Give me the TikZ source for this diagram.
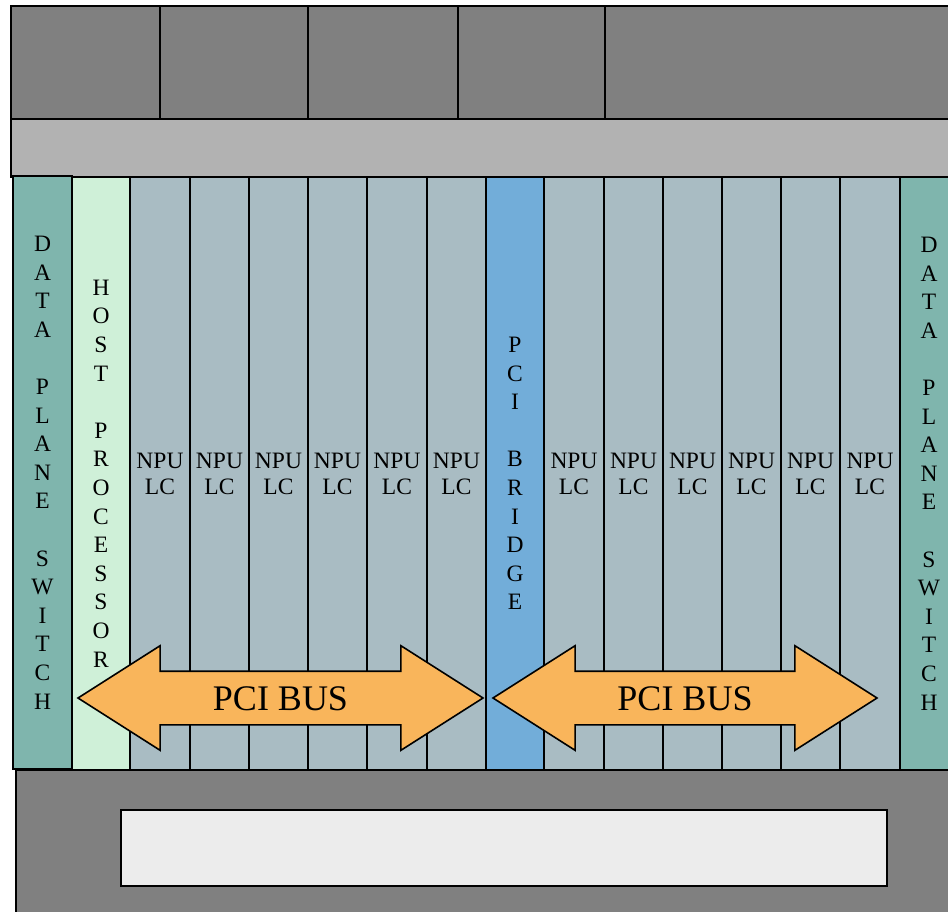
\documentclass[tikz,border=0pt]{standalone}
\usepackage{fontspec}
\setmainfont{Liberation Serif}
\usetikzlibrary{shapes.arrows}
\definecolor{chassis}{RGB}{128,128,128}
\definecolor{backplane}{RGB}{178,178,178}
\definecolor{switchcol}{RGB}{127,181,173}
\definecolor{hostcol}{RGB}{207,240,216}
\definecolor{npucol}{RGB}{169,188,195}
\definecolor{bridgecol}{RGB}{114,173,217}
\definecolor{buscol}{RGB}{249,181,91}
\definecolor{fancol}{RGB}{236,236,236}
\begin{document}
\begin{tikzpicture}[
    x=1pt,y=-1pt,
    panel/.style={draw,line width=1.6pt},
    card/.style={draw,line width=1.6pt,inner sep=0pt,minimum height=593pt,minimum width=59pt,align=center,font=\fontsize{23.5}{28.6}\selectfont},
    npu/.style={card,fill=npucol,font=\fontsize{23.5}{26}\selectfont},
    bus/.style={double arrow,draw,line width=1.6pt,fill=buscol,inner xsep=0pt,inner ysep=13pt,text height=25pt,text depth=1pt,double arrow head extend=25.5pt,double arrow tip angle=65,font=\fontsize{36}{40}\selectfont}
]
\useasboundingbox (0,0) rectangle (948,911);
\clip (0,0) rectangle (948,911);

% chassis top
\filldraw[panel,fill=chassis] (11,6) rectangle (160,119);
\filldraw[panel,fill=chassis] (160,6) rectangle (308,119);
\filldraw[panel,fill=chassis] (308,6) rectangle (458,119);
\filldraw[panel,fill=chassis] (458,6) rectangle (605,119);
\filldraw[panel,fill=chassis] (605,6) rectangle (960,119);
\filldraw[panel,fill=backplane] (11,119) rectangle (960,177);

% slots
\node[card,fill=switchcol] (dpsL) at (42.5,472.5) {D\\A\\T\\A\\[28.6pt]P\\L\\A\\N\\E\\[28.6pt]S\\W\\I\\T\\C\\H};
\node[card,fill=hostcol,minimum width=58pt] (host) at (101,473.5) {H\\O\\S\\T\\[28.6pt]P\\R\\O\\C\\E\\S\\S\\O\\R};
\node[npu] (npu1) at (160,473.5) {NPU\\LC};
\node[npu] (npu2) at (219.5,473.5) {NPU\\LC};
\node[npu] (npu3) at (278.5,473.5) {NPU\\LC};
\node[npu] (npu4) at (337.5,473.5) {NPU\\LC};
\node[npu] (npu5) at (397,473.5) {NPU\\LC};
\node[npu] (npu6) at (456.5,473.5) {NPU\\LC};
\node[card,fill=bridgecol,minimum width=58pt] (bridge) at (515,473.5) {P\\C\\I\\[28.6pt]B\\R\\I\\D\\G\\E};
\node[npu] (npu7) at (574,473.5) {NPU\\LC};
\node[npu] (npu8) at (633.5,473.5) {NPU\\LC};
\node[npu] (npu9) at (692.5,473.5) {NPU\\LC};
\node[npu] (npu10) at (751.5,473.5) {NPU\\LC};
\node[npu] (npu11) at (810.5,473.5) {NPU\\LC};
\node[npu] (npu12) at (870,473.5) {NPU\\LC};
\node[card,fill=switchcol,minimum width=58pt] (dpsR) at (929,473.5) {D\\A\\T\\A\\[28.6pt]P\\L\\A\\N\\E\\[28.6pt]S\\W\\I\\T\\C\\H};

% chassis bottom with fan tray
\filldraw[panel,fill=chassis] (16,770) rectangle (960,920);
\filldraw[panel,fill=fancol] (121,810) rectangle (887,886);

% buses
\node[bus,minimum height=405pt] (busL) at (280.5,698) {PCI BUS};
\node[bus,minimum height=384pt] (busR) at (685,698) {PCI BUS};
\end{tikzpicture}
\end{document}
